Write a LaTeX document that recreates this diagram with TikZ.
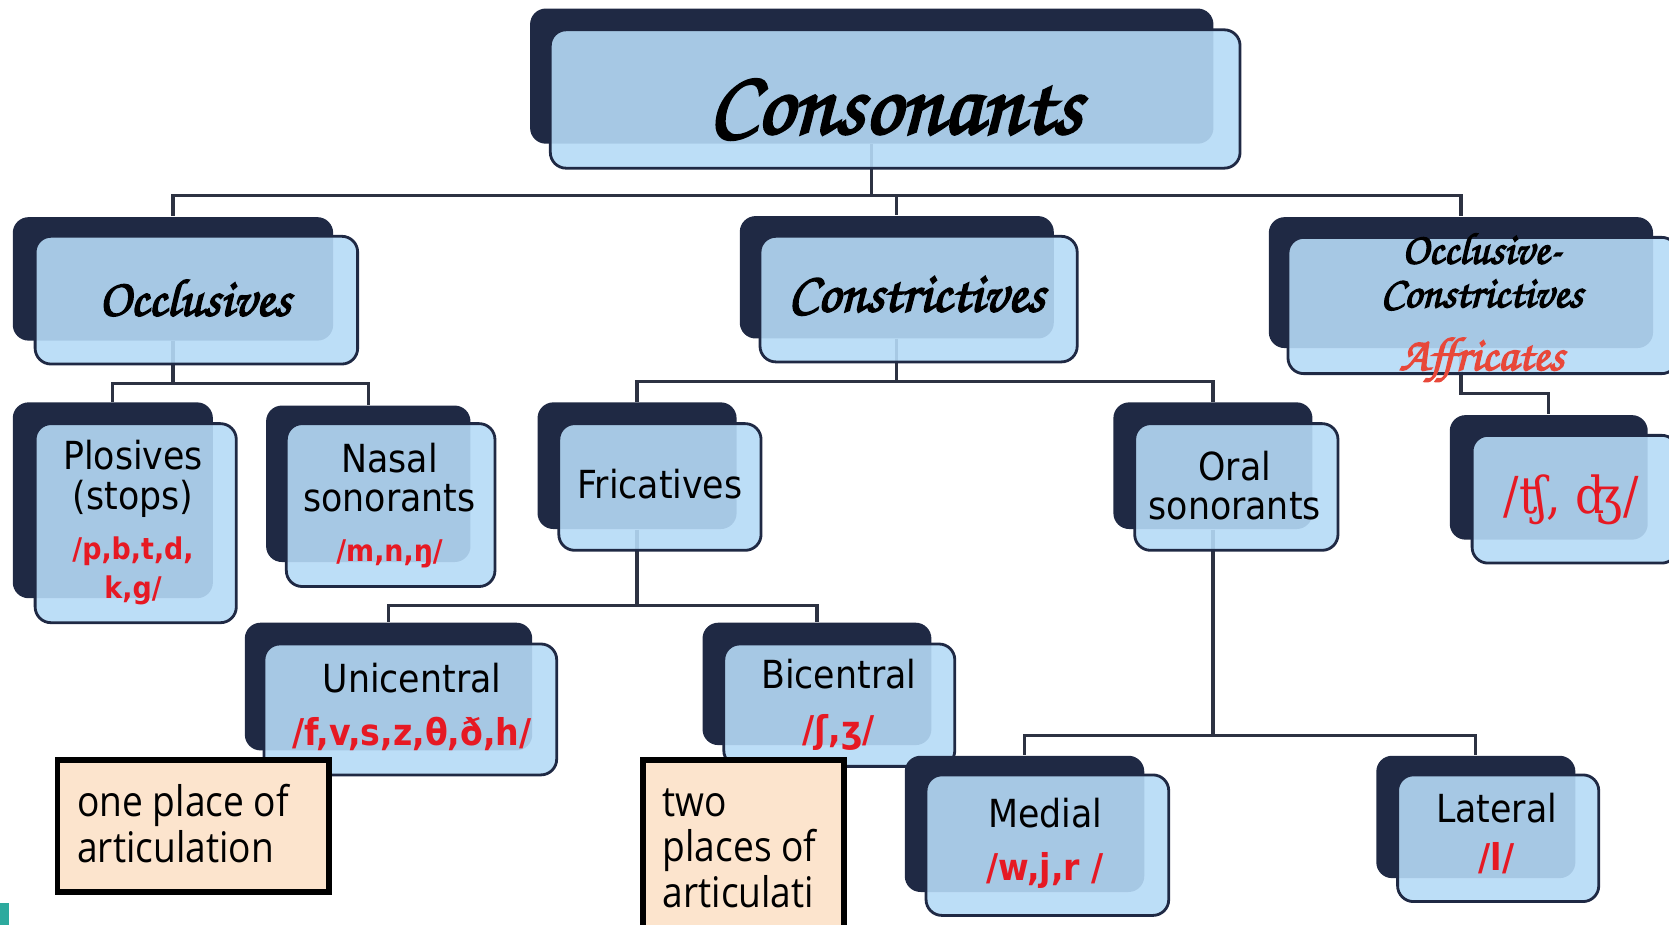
\documentclass[tikz,border=0pt]{standalone}
\usepackage{fontspec}
\usetikzlibrary{fit,backgrounds}

\newfontfamily\boxfont{DejaVu Sans Condensed}
\newfontfamily\notefont[FakeStretch=0.88]{Open Sans}
\newfontfamily\ipafont{DejaVu Serif Condensed}
\newfontfamily\handfont[FakeBold=3]{texgyrechorus-mediumitalic.otf}

\definecolor{navy}{RGB}{31,41,68}
\definecolor{paleblue}{RGB}{181,218,246}
\definecolor{linecol}{RGB}{45,50,66}
\definecolor{phred}{RGB}{230,25,35}
\definecolor{afred}{RGB}{232,72,58}
\definecolor{peach}{RGB}{252,228,205}
\definecolor{slideteal}{RGB}{45,170,158}

\newcommand\phon[1]{\color{phred}\bfseries\fontsize{#1}{#1}\selectfont}
\newcommand\hand[1]{\handfont\fontsize{#1}{#1}\selectfont}

\tikzset{
  back/.style={fill=navy, rounded corners=4.5pt, inner sep=0pt},
  front/.style={draw=navy, line width=0.8pt, fill=paleblue, fill opacity=0.9,
    rounded corners=4.5pt, inner sep=0pt},
  lbl/.style={inner sep=0pt, align=center,
    font=\boxfont\fontsize{11}{11.2}\selectfont},
  link/.style={draw=linecol, line width=0.9pt},
  note/.style={draw=black, line width=1.5pt, fill=peach, inner sep=0pt},
  notetext/.style={inner sep=0pt, align=left, anchor=north west,
    font=\notefont\fontsize{12}{13}\selectfont}
}

\begin{document}
\begin{tikzpicture}[x=0.10644mm, y=-0.10644mm]
\useasboundingbox (0,0) rectangle (1568,869);
\clip (0,0) rectangle (1568,869);

% top level
\node[back, fit={(498,8) (1140,135)}] (cons) {};
\node[front, fit={(517,28) (1165,158)}] (consF) {};
\node[lbl, font=\hand{26}] (consT) at ([yshift=-3]consF.center) {Consonants};

% second row
\node[back, fit={(12,204) (313,320)}] (occ) {};
\node[front, fit={(33,222) (336,342)}] (occF) {};
\node[lbl, font=\hand{15}] (occT) at (183,280) {Occlusives};
\node[back, fit={(695,203) (990,318)}] (con) {};
\node[front, fit={(714,222) (1012,340)}] (conF) {};
\node[lbl, font=\hand{16}] (conT) at (861,278) {Constrictives};
\node[back, fit={(1192,204) (1553,327)}] (occon) {};
\node[front, fit={(1210,223) (1576,351)}] (occonF) {};
\node[lbl, font={\handfont\fontsize{12.6}{12.4}\selectfont}] (occonT) at (1392,289)
  {Occlusive-\\Constrictives\\[5.5pt]{\color{afred}\fontsize{13.5}{13.5}\selectfont Affricates}};

% third row
\node[back, fit={(12,378) (200,562)}] (plo) {};
\node[front, fit={(33,398) (222,585)}] (ploF) {};
\node[lbl] (ploT) at (125,491)
  {Plosives\\(stops)\\[3pt]\phon{8.5}/p,b,t,d,\\\phon{8.5}k,g/};
\node[back, fit={(250,381) (442,528)}] (nas) {};
\node[front, fit={(269,398) (465,551)}] (nasF) {};
\node[lbl] (nasT) at (366,475)
  {Nasal\\sonorants\\[3pt]\phon{8.5}/m,n,ŋ/};
\node[back, fit={(505,378) (692,497)}] (fri) {};
\node[front, fit={(525,398) (715,517)}] (friF) {};
\node[lbl] (friT) at (620,455) {Fricatives};
\node[back, fit={(1046,378) (1233,497)}] (ora) {};
\node[front, fit={(1066,398) (1257,517)}] (oraF) {};
\node[lbl] (oraT) at (1160,456) {Oral\\sonorants};
\node[back, fit={(1362,390) (1548,507)}] (aff) {};
\node[front, fit={(1383,409) (1576,529)}] (affF) {};
\node[lbl, text=phred, font=\ipafont\fontsize{14.5}{14.5}\selectfont] (affT)
  at (1476,470) {/ʧ, ʤ/};

% fourth row
\node[back, fit={(230,585) (500,705)}] (uni) {};
\node[front, fit={(248,605) (523,728)}] (uniF) {};
\node[lbl] (uniT) at (387,664)
  {Unicentral\\[4pt]\phon{10.5}/f,v,s,z,θ,ð,h/};
\node[back, fit={(660,585) (875,700)}] (bic) {};
\node[front, fit={(680,605) (897,720)}] (bicF) {};
\node[lbl] (bicT) at (788,662)
  {Bicentral\\[4pt]\phon{10.5}/ʃ,ʒ/};
\node[back, fit={(850,710) (1075,838)}] (med) {};
\node[front, fit={(870,728) (1098,860)}] (medF) {};
\node[lbl] (medT) at (982,792)
  {Medial\\[4pt]\phon{10.5}/w,j,r /};
\node[back, fit={(1293,710) (1480,825)}] (lat) {};
\node[front, fit={(1313,728) (1502,847)}] (latF) {};
\node[lbl] (latT) at (1406,783)
  {Lateral\\[2.5pt]\phon{10.5}/l/};

% notes
\node[note, fit={(54,714) (309,838)}] (n1) {};
\node[notetext] (n1t) at (72,736) {one place of\\articulation};
\node[note, fit={(604,714) (793,900)}] (n2) {};
\node[notetext] (n2t) at (622,740) {two\\places of\\articulati};

\fill[slideteal] (0,848) rectangle (8,869);

\begin{pgfonlayer}{background}
\draw[link] (cons.south) -- ++(0,48) -| (occ.north);
\draw[link] (cons.south) ++(0,48) -| (con.north);
\draw[link] (cons.south) ++(0,48) -| (occon.north);
\draw[link] (occ.south) -- ++(0,40) -| (plo.north);
\draw[link] (occ.south) ++(0,40) -| (nas.north);
\draw[link] (con.south) -- ++(0,40) -| (fri.north);
\draw[link] (con.south) ++(0,40) -| (ora.north);
\draw[link] (occon.south) -- ++(0,42) -| (aff.north);
\draw[link] (fri.south) -- ++(0,71) -| (uni.north);
\draw[link] (fri.south) ++(0,71) -| (bic.north);
\draw[link] (ora.south) -- ++(0,193) -| (med.north);
\draw[link] (ora.south) ++(0,193) -| (lat.north);
\end{pgfonlayer}

\end{tikzpicture}
\end{document}
